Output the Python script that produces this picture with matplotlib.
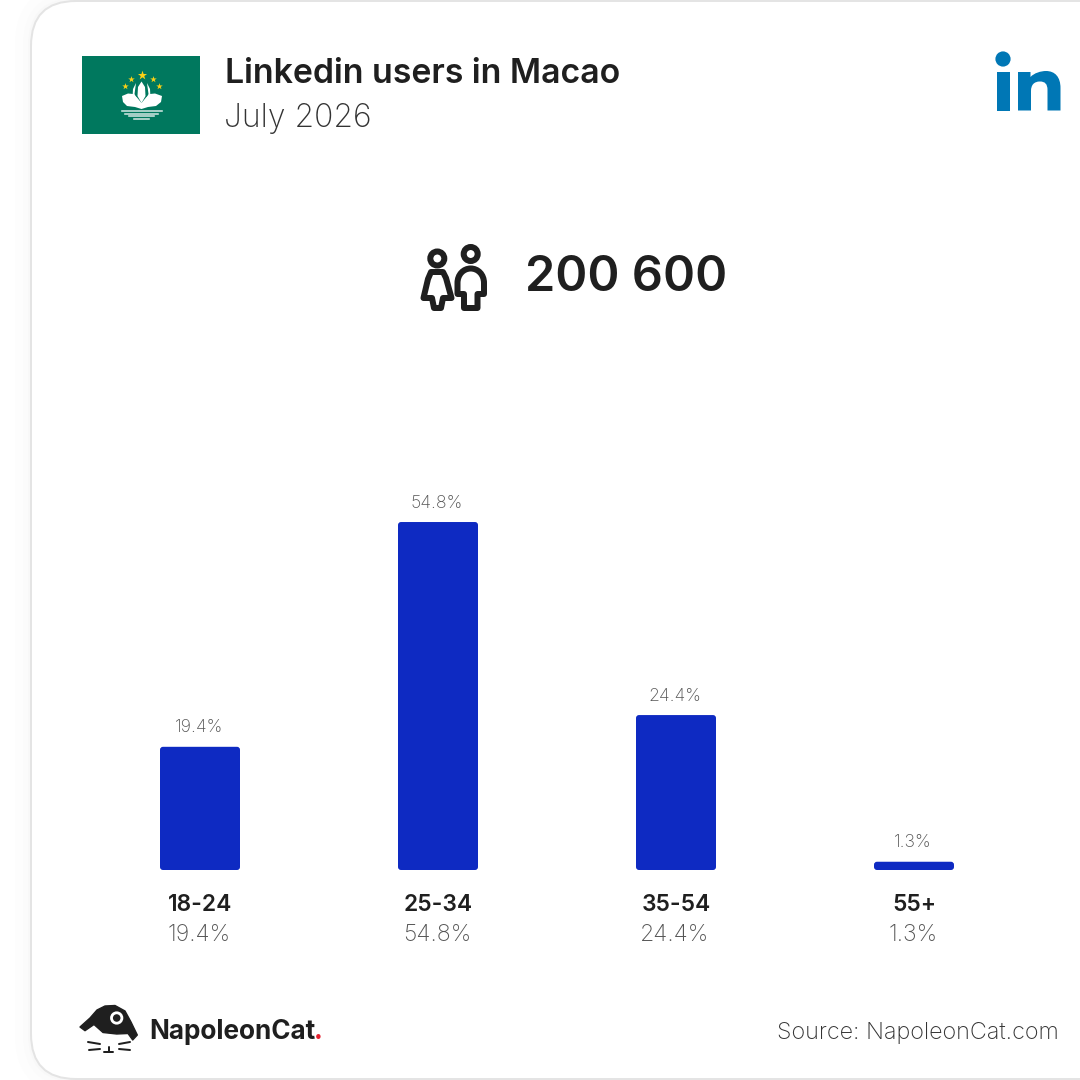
import matplotlib
matplotlib.use('Agg')
import matplotlib.pyplot as plt
from matplotlib.patches import FancyBboxPatch, Circle, Rectangle, PathPatch, Polygon
from matplotlib.path import Path

age_groups = ['18-24', '25-34', '35-54', '55+']
shares = [19.4, 54.8, 24.4, 1.3]
total_users = '200 600'
title = 'Linkedin users in Macao'
subtitle = 'July 2026'
source = 'Source: NapoleonCat.com'

DARK = '#1f1f1f'
BLUE = '#0e2ac2'
FONT = 'Inter'
PX = 0.72  # px to pt at dpi 100

plt.rcParams['font.family'] = [FONT, 'DejaVu Sans']

fig = plt.figure(figsize=(10.8, 10.8), dpi=100, facecolor='white')

# overlay in pixel coordinates for the card, logos and icons
bg = fig.add_axes([0, 0, 1, 1])
bg.set_xlim(0, 1080)
bg.set_ylim(1080, 0)
bg.axis('off')


def stroke(verts, codes=None, lw=6, color=DARK, fill='none', closed=False):
    if codes is None:
        codes = [Path.MOVETO] + [Path.LINETO] * (len(verts) - 1)
    if closed:
        verts = list(verts) + [verts[0]]
        codes = list(codes) + [Path.CLOSEPOLY]
    bg.add_patch(PathPatch(Path(verts, codes), fc=fill, ec=color, lw=lw * PX,
                           joinstyle='round', capstyle='round'))


# card with faint shadow
for grow, col in [(16, '#fdfdfd'), (8, '#fbfbfb'), (3, '#f8f8f8')]:
    bg.add_patch(FancyBboxPatch((31 - grow, 1 - grow), 1200, 1078 + 2 * grow,
                                boxstyle='round,pad=0,rounding_size=%d' % (45 + grow),
                                fc=col, ec='none'))
bg.add_patch(FancyBboxPatch((31, 1), 1200, 1078, boxstyle='round,pad=0,rounding_size=45',
                            fc='white', ec='#e4e4e4', lw=2 * PX))

# flag
GREEN = '#00785e'
bg.add_patch(Rectangle((82, 56), 118, 78, fc=GREEN, ec='none'))
bg.scatter([141.5], [75], marker='*', s=48, c='#fbd116', lw=0)
bg.scatter([131, 153, 124.5, 159], [78.5, 78.5, 86, 86], marker='*', s=24, c='#fbd116', lw=0)
bg.add_patch(Polygon([(141.5, 81.5), (145, 87), (145.5, 96), (141.5, 103), (137.5, 96), (138, 87)],
                     fc='white', ec='none'))
bg.add_patch(Polygon([(136, 83), (134.5, 94), (139, 103), (132.5, 98), (133, 89)], fc='white', ec='none'))
bg.add_patch(Polygon([(147, 83), (148.5, 94), (144, 103), (150.5, 98), (150, 89)], fc='white', ec='none'))
bg.add_patch(Polygon([(122, 96), (128, 93.5), (133, 94), (137, 97.5), (141.5, 103), (146, 97.5), (150, 94),
                      (155, 93.5), (162, 96), (161, 102), (156, 106), (148, 107), (141.5, 109), (135, 107),
                      (127, 106), (123, 102)], fc='white', ec='none'))
for y, x0, x1 in [(110.5, 122, 162), (113.5, 125, 158), (116, 129, 154), (118.5, 134, 149)]:
    bg.plot([x0, x1], [y, y], color='white', lw=1.6 * PX, alpha=.8)

# linkedin mark
LI = '#0077b5'
bg.add_patch(Circle((1003, 59), 7.6, fc=LI, ec='none'))
bg.add_patch(Rectangle((997, 72), 12.5, 38.5, fc=LI, ec='none'))
n_verts = [(1018, 110.5), (1018, 72), (1030.5, 72), (1030.5, 77), (1034, 73), (1041, 71), (1046, 71),
           (1055, 71), (1060.5, 77), (1060.5, 88), (1060.5, 110.5), (1047.5, 110.5), (1047.5, 90),
           (1047.5, 84), (1045, 81.5), (1040, 81.5), (1034, 81.5), (1031, 85), (1031, 91),
           (1031, 110.5), (1018, 110.5)]
n_codes = [Path.MOVETO, Path.LINETO, Path.LINETO, Path.LINETO, Path.CURVE4, Path.CURVE4, Path.CURVE4,
           Path.CURVE4, Path.CURVE4, Path.CURVE4, Path.LINETO, Path.LINETO, Path.LINETO,
           Path.CURVE4, Path.CURVE4, Path.CURVE4, Path.CURVE4, Path.CURVE4, Path.CURVE4,
           Path.LINETO, Path.CLOSEPOLY]
bg.add_patch(PathPatch(Path(n_verts, n_codes), fc=LI, ec='none'))

# people icon
bg.add_patch(Circle((437.3, 258.5), 7, fc='none', ec=DARK, lw=6 * PX))
bg.add_patch(Circle((470.7, 254), 7, fc='none', ec=DARK, lw=6 * PX))
stroke([(437.3, 272), (431, 272), (428, 279), (423.5, 298), (432, 298), (434, 308), (441, 308),
        (443, 298), (451.5, 298), (446, 278), (443, 272)], closed=True)
stroke([(457.5, 294), (457.5, 283), (457.5, 274.5), (463.5, 268.5), (470.7, 268.5), (478, 268.5), (484, 274.5),
        (484, 283), (484, 294), (477.5, 294), (477.5, 308), (464, 308), (464, 294)],
       codes=[Path.MOVETO, Path.LINETO, Path.CURVE4, Path.CURVE4, Path.CURVE4, Path.CURVE4, Path.CURVE4,
              Path.CURVE4, Path.LINETO, Path.LINETO, Path.LINETO, Path.LINETO, Path.LINETO], closed=True)

# napoleoncat logo
bg.add_patch(Polygon([(80, 1027), (90, 1018), (97, 1010), (105, 1006), (115, 1005.5), (125, 1011), (131, 1022),
                      (137.3, 1035), (132.7, 1040), (128, 1033.5), (116.7, 1034), (103, 1032.5), (94, 1024.5),
                      (85, 1030.7)], fc=DARK, ec=DARK, lw=1, joinstyle='round'))
bg.add_patch(Circle((116.7, 1018), 5.2, fc=DARK, ec='white', lw=2.8 * PX))
for seg in [[(88, 1042), (100, 1044)], [(89, 1050), (100, 1049)], [(119, 1044), (130, 1042)],
            [(119, 1049), (130, 1050)], [(108.5, 1047), (108.5, 1052)], [(104, 1052), (113, 1052)]]:
    bg.plot(*zip(*seg), color=DARK, lw=2 * PX, solid_capstyle='round')

# header and footer text
bg.text(225, 74, title, fontsize=24.4, fontweight='semibold', color=DARK, va='center')
bg.text(224, 118, subtitle, fontsize=23, fontweight='light', color='#333333', va='center')
bg.text(525, 278, total_users, fontsize=35, fontweight='semibold', color=DARK, va='center')
bg.text(149, 1032, 'NapoleonCat', fontsize=18.8, fontweight='bold', color=DARK, va='center')
bg.text(314, 1032, '.', fontsize=19, fontweight='bold', color='#e5202e', va='center')
bg.text(1059, 1032.5, source, fontsize=16.8, fontweight='light', color='#333333', va='center', ha='right')

# bars: 238 px between groups, 6.35 px per percent
ax = fig.add_axes([81 / 1080, 210 / 1080, 952 / 1080, 381 / 1080])
ax.patch.set_alpha(0)
ax.set_xlim(-0.5, 3.5)
ax.set_ylim(0, 60)
for name in ax.spines:
    ax.spines[name].set_visible(False)
ax.set_yticks([])
ax.set_xticks(range(len(age_groups)))
ax.set_xticklabels(age_groups, fontsize=16.4, fontweight='semibold', color=DARK)
ax.tick_params(axis='x', length=0, pad=17)

bar_w = 80 / 238
for i, v in enumerate(shares):
    ax.add_patch(FancyBboxPatch((i - bar_w / 2, 0), bar_w, v, boxstyle='round,pad=0,rounding_size=0.0126',
                                mutation_aspect=238 / 6.35, fc=BLUE, ec='none'))
    ax.annotate('%s%%' % v, (i, v), xytext=(-1 * PX, 19 * PX), textcoords='offset points', ha='center',
                va='center', fontsize=12.7, fontweight='light', color='#555555')
    ax.annotate('%s%%' % v, (i, 0), xytext=(-1 * PX, -65 * PX), textcoords='offset points', ha='center',
                va='center', fontsize=16.6, fontweight='light', color='#555555')

fig.savefig('out.png', dpi=100)
